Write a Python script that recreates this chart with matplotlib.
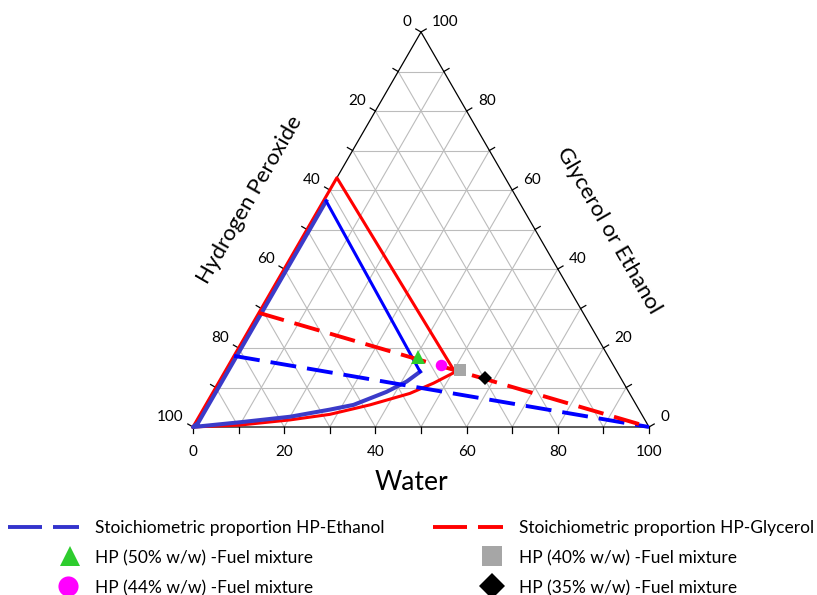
import numpy as np
import matplotlib
matplotlib.use('Agg')
import matplotlib.pyplot as plt

plt.rcParams['font.family'] = ['Lato', 'DejaVu Sans']

# ---------------- data (mass %) ----------------
# HP-Glycerol region (red solid): water / fuel, HP = 100 - water - fuel
gly_region_water = [0, 0, 50.5, 47.2, 43.3, 36.0, 28.4, 20.4, 10.1, 0]
gly_region_fuel = [0, 63.1, 13.9, 11.1, 8.5, 5.6, 3.2, 1.8, 0.5, 0]

# HP-Ethanol region (blue solid)
eth_upper_water = [0.6, 42.8]
eth_upper_fuel = [57.2, 14.0]
eth_lower_water = [42.8, 41.1, 38.0, 32.4, 27.8, 20.0, 9.7, 0, 0.6, 0.6]
eth_lower_fuel = [14.0, 11.5, 8.9, 5.6, 4.4, 2.6, 1.2, 0, 1.0, 57.2]

# Stoichiometric proportion lines
stoich_eth_water = [0, 100]
stoich_eth_fuel = [18.0, 0]
stoich_gly_water = [0, 100]
stoich_gly_fuel = [28.9, 0]

# HP-fuel mixtures
mix_labels = ['HP (50% w/w) -Fuel mixture', 'HP (44% w/w) -Fuel mixture',
              'HP (40% w/w) -Fuel mixture', 'HP (35% w/w) -Fuel mixture']
mix_water = [40.65, 46.65, 51.3, 57.8]
mix_fuel = [17.6, 15.6, 14.4, 12.5]
mix_markers = ['^', 'o', 's', 'D']
mix_colors = ['#2ecc2e', '#ff00ff', '#a6a6a6', '#000000']
mix_sizes = [9.5, 8.3, 8.3, 7.6]

tick_values = list(range(0, 101, 10))
label_values = list(range(0, 101, 20))

S3 = np.sqrt(3) / 2


def tern(water, fuel):
    w = np.asarray(water, float)
    f = np.asarray(fuel, float)
    return w + f / 2, f * S3


W, H = 817, 595
fig = plt.figure(figsize=(W / 100, H / 100), dpi=100)
ax = fig.add_axes([193 / W, (H - 427) / H, 456 / W, 395 / H])
ax.set_xlim(0, 100)
ax.set_ylim(0, 100 * S3)
ax.axis('off')
PX = 100 / 456.0  # data units per pixel

# grid
gcol = '#bcbcbc'
for v in tick_values[1:-1]:
    for (w0, f0, w1, f1) in [(0, v, 100 - v, v), (v, 0, v, 100 - v), (100 - v, 0, 0, 100 - v)]:
        x, y = tern([w0, w1], [f0, f1])
        ax.plot(x, y, color=gcol, lw=0.8, zorder=1)

# outer triangle
x, y = tern([0, 100, 0, 0], [0, 0, 100, 0])
ax.plot(x, y, color='black', lw=0.9, zorder=2, clip_on=False)

# ticks and labels
TL = 6 * PX
fs_tick = 11
for v in tick_values:
    # bottom (water)
    ax.plot([v, v], [0, -TL], color='black', lw=0.9, clip_on=False)
    if v in label_values:
        ax.text(v, -25 * PX, str(v), ha='center', va='center', fontsize=fs_tick)
    # left (HP)
    px_, py_ = tern(0, 100 - v)
    dx, dy = -S3, 0.5
    ex, ey = px_ + TL * dx, py_ + TL * dy
    ax.plot([px_, ex], [py_, ey], color='black', lw=0.9, clip_on=False)
    if v in label_values:
        ax.text(ex - 4 * PX, ey + 7 * PX, str(v), ha='right', va='center', fontsize=fs_tick)
    # right (fuel)
    px_, py_ = tern(100 - v, v)
    dx, dy = S3, 0.5
    ex, ey = px_ + TL * dx, py_ + TL * dy
    ax.plot([px_, ex], [py_, ey], color='black', lw=0.9, clip_on=False)
    if v in label_values:
        ax.text(ex + 6 * PX, ey + 7 * PX, str(v), ha='left', va='center', fontsize=fs_tick)

# axis titles
ax.text((250 - 193) * PX, (427 - 200) * PX, 'Hydrogen Peroxide', rotation=60,
        ha='center', va='center', fontsize=16, rotation_mode='anchor')
ax.text((609 - 193) * PX, (427 - 231) * PX, 'Glycerol or Ethanol', rotation=-60,
        ha='center', va='center', fontsize=16, rotation_mode='anchor')
ax.text((411 - 193) * PX, (427 - 482) * PX, 'Water', ha='center', va='center', fontsize=19)

# regions
x, y = tern(eth_lower_water, eth_lower_fuel)
ax.plot(x, y, color='#3b3bc9', lw=2.9, zorder=4, clip_on=False, solid_joinstyle='round')
x, y = tern(gly_region_water, gly_region_fuel)
ax.plot(x, y, color='#ff0000', lw=2.2, zorder=3, clip_on=False)
x, y = tern(eth_upper_water, eth_upper_fuel)
ax.plot(x, y, color='#0000ff', lw=2.2, zorder=4, clip_on=False)

# stoichiometric lines
lw_d = 2.8
dash_plot = (26 * 0.72 / lw_d, 11 * 0.72 / lw_d)
x, y = tern(stoich_eth_water, stoich_eth_fuel)
ax.plot(x, y, color='#0000ff', lw=lw_d, linestyle=(0, dash_plot), zorder=5, clip_on=False)
x, y = tern(stoich_gly_water, stoich_gly_fuel)
ax.plot(x, y, color='#ff0000', lw=lw_d, linestyle=(0, dash_plot), zorder=5, clip_on=False)

# mixtures
for wv, fv, m, c, s in zip(mix_water, mix_fuel, mix_markers, mix_colors, mix_sizes):
    x, y = tern(wv, fv)
    ax.plot([x], [y], marker=m, color=c, markersize=s, markeredgewidth=0,
            linestyle='none', zorder=6, clip_on=False)

# ---------------- legend (drawn in pixel space) ----------------
lax = fig.add_axes([0, 0, 1, 1])
lax.set_xlim(0, W)
lax.set_ylim(H, 0)
lax.axis('off')
lax.patch.set_alpha(0)
dash_leg = (34 * 0.72 / lw_d, 11 * 0.72 / lw_d)
fs_leg = 12.5
lax.plot([8, 79], [527, 527], color='#3333cc', lw=lw_d, linestyle=(0, dash_leg))
lax.text(95, 528, 'Stoichiometric proportion HP-Ethanol', va='center', ha='left', fontsize=fs_leg)
lax.plot([433, 503], [527, 527], color='#ff0000', lw=lw_d, linestyle=(0, dash_leg))
lax.text(519, 528, 'Stoichiometric proportion HP-Glycerol', va='center', ha='left', fontsize=fs_leg)

leg_pos = [(70, 556, 95), (68.5, 586, 95), (492.5, 556, 519), (492.5, 586, 519)]
leg_sizes = [15, 14.5, 15, 13.7]
for (mx, my, tx), lab, m, c, s in zip(leg_pos, mix_labels, mix_markers, mix_colors, leg_sizes):
    lax.plot([mx], [my], marker=m, color=c, markersize=s, markeredgewidth=0,
             linestyle='none', clip_on=False)
    lax.text(tx, my + 2, lab, va='center', ha='left', fontsize=fs_leg)

fig.savefig('out.png', dpi=100)
